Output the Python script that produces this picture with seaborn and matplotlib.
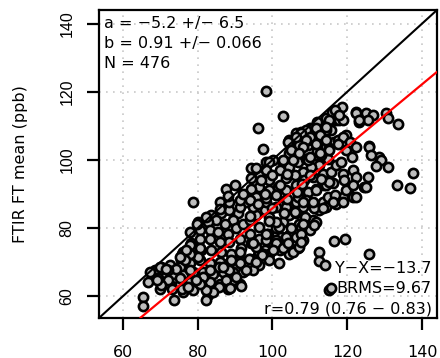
import matplotlib
matplotlib.use("Agg")
import matplotlib.pyplot as plt
import seaborn as sns
import pandas as pd

# ---- data ----
ref_x = [
    78.8, 85.9, 83.6, 86.3, 88.5, 90.8, 89.4, 87.2, 85.0, 82.8, 80.1, 77.9, 80.5, 83.2, 85.4, 88.1,
    90.3, 92.1, 93.9, 95.6, 97.9, 99.2, 96.5, 93.9, 91.2, 88.5, 85.9, 83.2, 80.5, 78.3, 76.1, 75.6,
    78.3, 81.0, 83.6, 86.3, 89.0, 91.6, 94.3, 96.5, 98.8, 101.0, 102.8, 104.5, 106.3, 108.1, 110.8,
    109.0, 106.8, 104.5, 102.3, 100.1, 97.9, 96.1, 93.9, 91.2, 88.5, 85.9, 83.2, 80.5, 77.9, 75.2,
    72.5, 70.3, 68.5, 69.0, 71.2, 73.4, 76.1, 78.8, 81.4, 84.1, 86.8, 89.4, 92.1, 72.5, 69.9, 75.2,
    77.9, 80.5, 83.2, 85.9, 88.5, 91.2, 76.1, 78.8, 82.8, 88.1, 96.5, 99.2, 101.9, 104.5, 106.8,
    108.1, 106.3, 103.6, 101.0, 112.5, 113.4, 109.9, 106.3, 102.8, 101.0, 98.3, 94.8, 93.0, 91.2,
    # upper band
    102.8, 96.1, 97.4, 87.6, 104.5, 108.1, 106.3, 109.0, 111.6, 112.5, 114.3, 116.1, 117.0, 115.6,
    113.4, 111.2, 109.4, 107.2, 104.5, 102.8, 100.1, 98.3, 97.9, 94.3, 96.5, 94.3, 99.2, 101.9,
    104.5, 106.8, 109.0, 111.6, 113.0, 114.3, 116.5, 114.8, 112.5, 110.3, 108.1, 105.9, 103.6,
    101.4, 99.2, 96.5, 94.3, 95.6, 98.3, 101.0, 103.6, 106.3, 108.5, 110.8, 113.4, 115.6, 117.0,
    116.1, 113.9, 111.6, 109.4, 106.8, 103.6, 114.8, 117.0, 91.2, 93.9, 88.5,
    # top cluster near the 1:1 line
    118.7, 116.0, 122.3, 117.9, 115.2, 112.0, 109.9, 114.3, 107.7, 119.6, 117.4, 111.6, 109.4,
    104.5, 107.2, 115.2, 112.0, 113.0, 119.6, 121.3, 109.4, 105.4, 102.7, 99.2, 95.6, 98.3, 98.3,
    # right part
    118.8, 122.3, 123.2, 125.0, 126.8, 125.5, 130.3, 130.8, 133.5, 118.8, 120.6, 122.3, 125.9,
    128.6, 129.0, 127.7, 130.8, 137.6, 118.3, 118.8, 121.5, 122.3, 125.5, 124.6, 119.2, 120.1,
    118.8, 121.5, 133.2, 136.9,
    # below the red line
    103.6, 106.3, 107.2, 104.9, 101.8, 103.6, 100.9, 98.3, 100.1, 102.7, 105.4, 107.2, 97.4, 95.6,
    93.8, 96.5, 99.2, 101.8, 91.2, 88.5, 94.7, 89.4, 85.8, 84.1, 83.2, 82.3, 91.6, 85.8, 83.2, 81.4,
    111.7, 114.3, 116.6, 119.7, 122.3, 125.0, 121.5, 109.0, 111.2, 114.3, 117.0, 105.9, 108.6,
    111.7, 107.7, 109.9, 104.1, 97.2, 95.7, 93.0, 90.3, 87.7, 88.6, 103.2, 101.0, 98.3, 94.8, 91.2,
    89.0, 86.8, 115.2,
    # lower left
    79.7, 82.3, 77.9, 80.6, 75.7, 80.1, 77.9, 76.6, 74.3, 77.9, 72.1, 69.9, 67.2, 69.5, 72.1, 75.2,
    66.8, 70.3, 73.0, 75.7, 77.5, 65.5, 65.3, 73.6, 82.3, 80.6, 69.0, 71.6, 79.6, 77.0, 75.2,
    # outliers
    116.5, 119.5, 112.4, 112.5, 114.0, 125.9, 115.2, 115.7,
    # upper cluster fill
    116.6, 117.9, 114.3, 111.7, 109.0, 107.7, 109.9, 112.6, 114.3, 111.7, 109.0, 106.3, 104.1,
    108.1, 105.0, 107.2, 109.9, 112.6, 115.2, 117.5, 125.9, 126.3, 123.2,
    108.1, 110.8, 116.1, 118.8, 113.4, 108.1, 111.2, 107.6, 107.6,
    104.0, 106.5, 102.0, 108.0, 110.0, 113.0, 104.0, 100.0, 98.0, 96.0, 99.0, 94.0, 92.0, 90.0,
    88.0, 86.0, 97.0, 100.0,
]
ftir_ft_mean = [
    87.7, 87.7, 83.8, 84.3, 85.3, 84.3, 82.3, 81.3, 82.3, 81.8, 81.8, 78.9, 79.4, 79.4, 78.9, 78.4,
    79.9, 81.3, 82.3, 83.8, 85.3, 83.3, 80.4, 78.4, 76.9, 75.9, 75.9, 76.9, 76.9, 75.5, 73.0, 70.6,
    72.5, 73.5, 73.5, 73.0, 72.5, 74.0, 75.5, 76.9, 78.4, 79.9, 81.8, 83.8, 85.3, 86.2, 82.3,
    80.8, 78.9, 77.9, 77.4, 75.5, 73.5, 72.0, 71.0, 70.6, 69.6, 70.1, 69.6, 70.6, 69.6, 68.6,
    69.1, 68.6, 67.6, 65.2, 65.7, 66.6, 66.1, 67.1, 67.1, 66.6, 67.1, 67.1, 67.1, 63.2, 62.2, 63.7,
    64.2, 64.2, 63.2, 63.7, 63.2, 63.7, 61.2, 61.7, 60.3, 62.2, 73.0, 72.5, 73.5, 72.5, 74.0,
    76.4, 77.4, 75.9, 76.4, 85.3, 87.7, 87.7, 87.7, 87.7, 86.2, 87.7, 86.2, 87.7, 86.2,
    # upper band
    112.9, 109.5, 103.1, 91.6, 105.6, 105.6, 107.8, 108.3, 107.8, 110.7, 112.2, 114.2, 111.7, 108.8,
    106.3, 105.8, 104.4, 102.4, 101.9, 99.5, 100.0, 99.5, 97.0, 97.5, 95.5, 94.6, 94.1, 97.0,
    98.0, 99.5, 100.4, 101.4, 101.9, 103.9, 105.3, 100.4, 98.5, 98.0, 96.5, 95.5, 94.6,
    92.1, 91.1, 92.1, 91.6, 89.2, 88.7, 89.7, 91.1, 92.6, 94.1, 95.1, 96.0, 96.5, 98.5,
    93.1, 92.6, 91.6, 90.6, 89.2, 88.2, 89.2, 89.2, 88.2, 88.2, 87.7,
    # top cluster near the 1:1 line
    115.6, 114.2, 114.2, 111.7, 111.7, 111.2, 109.4, 108.8, 108.3, 107.3, 105.9, 106.3, 105.9,
    105.9, 104.4, 103.4, 102.5, 101.5, 102.9, 101.0, 100.0, 100.0, 100.0, 99.5, 97.5, 97.0, 120.3,
    # right part
    111.7, 113.9, 111.0, 113.7, 113.2, 111.7, 113.7, 112.2, 110.5, 106.8, 105.4, 103.9, 104.1,
    101.0, 100.0, 98.2, 97.8, 96.3, 99.5, 96.0, 97.0, 95.1, 95.1, 92.1, 94.1, 91.6,
    89.2, 89.2, 92.5, 91.8,
    # below the red line
    86.2, 84.3, 81.3, 79.9, 80.4, 77.4, 75.5, 76.4, 73.5, 74.0, 73.0, 74.5, 72.5, 74.5,
    71.0, 69.1, 70.6, 69.6, 69.6, 67.6, 67.6, 64.7, 62.7, 61.2, 64.2, 58.8, 62.9, 68.6, 67.6, 65.7,
    91.2, 92.6, 89.7, 91.2, 89.2, 92.1, 92.6, 88.2, 85.8, 86.3, 87.2, 84.8, 83.3,
    81.8, 80.4, 79.4, 75.5, 72.0, 70.1, 67.6, 65.7, 64.7, 62.5, 84.3, 81.8, 78.4, 75.5, 73.0,
    70.6, 68.6, 93.6,
    # lower left
    81.3, 83.3, 75.0, 74.0, 72.5, 71.5, 72.5, 70.6, 68.1, 67.6, 67.6, 68.6, 67.1, 65.2, 64.7, 65.2,
    64.2, 63.2, 62.2, 62.2, 62.7, 59.8, 57.0, 59.0, 61.7, 63.7, 64.7, 68.1, 64.7, 73.5, 71.6,
    # outliers
    76.2, 76.8, 73.0, 70.2, 69.3, 72.3, 61.7, 62.4,
    # upper cluster fill
    114.6, 113.2, 109.7, 109.3, 108.8, 107.8, 106.8, 107.3, 105.8, 104.8, 105.8, 106.8, 105.3,
    103.9, 102.9, 101.9, 100.9, 101.9, 102.9, 104.8, 103.9, 101.4, 111.7,
    87.7, 87.7, 87.7, 87.7, 85.8, 81.3, 80.8, 78.4, 75.9,
    88.5, 90.5, 92.5, 93.0, 95.5, 94.5, 96.0, 86.0, 90.0, 87.0, 82.0, 83.5, 90.0, 92.5,
    89.5, 85.5, 94.0, 95.5,
]

tick_values = [60, 80, 100, 120, 140]
axis_range = (53.6, 144.0)
fit_intercept = -5.2
fit_slope = 0.91

stats_top = ["a = \u22125.2 +/\u2212 6.5", "b = 0.91 +/\u2212 0.066", "N = 476"]
stats_bottom = ["Y\u2212X=\u221213.7", "BRMS=9.67", "r=0.79 (0.76 \u2212 0.83)"]
y_label = "FTIR FT mean (ppb)"

df = pd.DataFrame({"x": ref_x, "y": ftir_ft_mean})

# ---- figure ----
sns.set_style("white")
plt.rcParams["font.family"] = ["DejaVu Sans"]
plt.rcParams.update({"text.color": "black", "axes.labelcolor": "black",
                     "xtick.color": "black", "ytick.color": "black"})

fig = plt.figure(figsize=(4.40, 3.58), dpi=100)
ax = fig.add_axes([99 / 440, 1 - 318 / 358, 338 / 440, 308 / 358])

ax.set_xlim(*axis_range)
ax.set_ylim(*axis_range)
ax.set_xticks(tick_values)
ax.set_yticks(tick_values)

for v in tick_values:
    ax.axvline(v, color="#c8c8c8", linestyle=(0, (1, 3.2)), linewidth=1.2, zorder=0)
    ax.axhline(v, color="#c8c8c8", linestyle=(0, (1, 3.2)), linewidth=1.2, zorder=0)

sns.scatterplot(data=df, x="x", y="y", ax=ax, s=44, color="#bdbdbd",
                edgecolor="black", linewidth=1.9, zorder=2, legend=False)

ax.axline((0, 0), slope=1, color="black", linewidth=1.5, zorder=3)
ax.axline((0, fit_intercept), slope=fit_slope, color="#ff0000", linewidth=1.6, zorder=4)

for s in ax.spines.values():
    s.set_visible(True)
    s.set_linewidth(1.6)
    s.set_color("black")

ax.set_xlabel("")
ax.set_ylabel("")
ax.tick_params(axis="both", direction="out", length=8.6, width=1.6, color="black",
               labelcolor="black", bottom=True, left=True)
ax.tick_params(axis="x", pad=10.5, labelsize=11.5)
ax.tick_params(axis="y", pad=9, labelsize=11.5, labelrotation=90)
for lab in ax.get_yticklabels():
    lab.set_fontfamily(["Liberation Sans", "DejaVu Sans"])
    lab.set_va("center")

fig.text(21 / 440, 1 - 164 / 358, y_label, rotation=90, ha="center", va="center",
         fontsize=11.5, color="black")

top_y = [0.942, 0.877, 0.812]
for txt, yy in zip(stats_top, top_y):
    ax.text(0.015, yy, txt, transform=ax.transAxes, ha="left", va="baseline",
            fontsize=11.5, color="black", zorder=5)

bot_y = [0.146, 0.081, 0.016]
for txt, yy in zip(stats_bottom, bot_y):
    ax.text(0.985, yy, txt, transform=ax.transAxes, ha="right", va="baseline",
            fontsize=11.5, color="black", zorder=5)

fig.savefig("out.png", dpi=100)
